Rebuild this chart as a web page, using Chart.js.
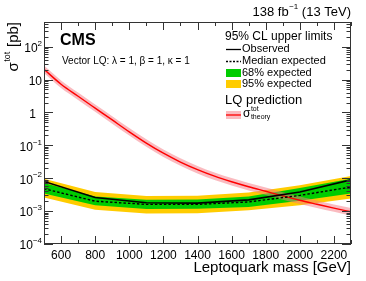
<!DOCTYPE html>
<html>
<head>
<meta charset="utf-8">
<script src="https://cdn.jsdelivr.net/npm/chart.js@4/dist/chart.umd.min.js"></script>
<style>
  html, body { margin: 0; padding: 0; background: #fff; }
</style>
</head>
<body>
<canvas id="limit-chart" width="366" height="281"></canvas>
<script>
// Limit scan mass points (GeV) and cross sections (pb)
const masses = [500, 800, 1100, 1400, 1700, 2000, 2300];
const observed = [8.0e-3, 2.6e-3, 1.8e-3, 1.75e-3, 2.2e-3, 3.8e-3, 8.9e-3];
const expected = [4.8e-3, 2.0e-3, 1.6e-3, 1.6e-3, 1.9e-3, 3.0e-3, 5.4e-3];
const exp68Up = [7.1e-3, 2.8e-3, 2.2e-3, 2.25e-3, 2.8e-3, 5.0e-3, 9.7e-3];
const exp68Down = [3.4e-3, 1.5e-3, 1.16e-3, 1.18e-3, 1.34e-3, 2.06e-3, 3.4e-3];
const exp95Up = [9.7e-3, 3.8e-3, 2.9e-3, 2.95e-3, 3.7e-3, 6.1e-3, 1.17e-2];
const exp95Down = [2.6e-3, 1.1e-3, 8.5e-4, 8.6e-4, 1.06e-3, 1.5e-3, 2.4e-3];

// Theory prediction
const theoryMasses = [500, 600, 700, 800, 900, 1000, 1100, 1200, 1300, 1400, 1500,
  1600, 1700, 1800, 1900, 2000, 2100, 2200, 2300];
const theory = [20.4, 7.2, 3.1, 1.35, 0.59, 0.257, 0.117, 0.0575, 0.031, 0.0182, 0.0115,
  0.0078, 0.0055, 0.0040, 0.0029, 0.00214, 0.00162, 0.00123, 0.00095];
const theoryUp = [26.5, 9.4, 4.0, 1.75, 0.77, 0.334, 0.152, 0.0748, 0.0403, 0.0237, 0.0150,
  0.0101, 0.00715, 0.0052, 0.00377, 0.00278, 0.00211, 0.0016, 0.00124];
const theoryDown = [15.7, 5.5, 2.4, 1.04, 0.454, 0.198, 0.09, 0.0442, 0.0238, 0.014, 0.00885,
  0.006, 0.00423, 0.00308, 0.00223, 0.00165, 0.00125, 0.00095, 0.00073];

// Axis ticks
const xTickLabels = [600, 800, 1000, 1200, 1400, 1600, 1800, 2000, 2200];
const yDecades = [-4, -3, -2, -1, 0, 1, 2];

const FONT = '"Liberation Sans", Arial, Helvetica, sans-serif';
const GREEN = '#00cc00';
const YELLOW = '#ffcc00';
const PINK = 'rgba(245, 120, 130, 0.5)';

const pts = (xs, ys) => xs.map((x, i) => ({ x, y: ys[i] }));

function textWithScripts(ctx, x, y, base, sup, sub, size) {
  ctx.font = size + 'px ' + FONT;
  ctx.fillText(base, x, y);
  const w = ctx.measureText(base).width;
  const small = Math.round(size * 0.62);
  ctx.font = small + 'px ' + FONT;
  if (sup) ctx.fillText(sup, x + w + 0.5, y - size * 0.42);
  if (sub) ctx.fillText(sub, x + w + 0.5, y + size * 0.28);
}

const decorations = {
  id: 'decorations',
  afterDraw(chart) {
    const { ctx, chartArea: a, scales: { x, y } } = chart;
    ctx.save();
    ctx.fillStyle = '#000';
    ctx.strokeStyle = '#333';
    ctx.lineWidth = 1;

    // frame
    ctx.strokeRect(a.left + 0.5, a.top + 0.5, a.right - a.left - 1, a.bottom - a.top - 1);

    // x ticks, inside on bottom and top
    ctx.beginPath();
    for (let m = 500; m <= 2300; m += 100) {
      const px = Math.round(x.getPixelForValue(m)) + 0.5;
      const len = m % 200 === 0 ? 8 : 4;
      ctx.moveTo(px, a.bottom); ctx.lineTo(px, a.bottom - len);
      ctx.moveTo(px, a.top); ctx.lineTo(px, a.top + len);
    }
    // y ticks, inside on left and right
    yDecades.forEach(d => {
      for (let k = 1; k <= 9; k++) {
        const v = k * Math.pow(10, d);
        if (v > y.max) break;
        const py = Math.round(y.getPixelForValue(v)) + 0.5;
        const len = k === 1 ? 9 : 4.5;
        ctx.moveTo(a.left, py); ctx.lineTo(a.left + len, py);
        ctx.moveTo(a.right, py); ctx.lineTo(a.right - len, py);
      }
    });
    ctx.stroke();

    // x tick labels
    ctx.font = '12px ' + FONT;
    ctx.textAlign = 'center';
    ctx.textBaseline = 'middle';
    xTickLabels.forEach(m => ctx.fillText(String(m), x.getPixelForValue(m), a.bottom + 12));

    // y tick labels
    ctx.textAlign = 'left';
    yDecades.forEach(d => {
      const py = y.getPixelForValue(Math.pow(10, d)) + 2;
      if (d === 0 || d === 1) {
        ctx.font = '12px ' + FONT;
        ctx.textAlign = 'right';
        ctx.fillText(d === 0 ? '1' : '10', d === 0 ? 36 : 42, py);
        ctx.textAlign = 'left';
        return;
      }
      const sup = String(d).replace('-', '\u2212');
      ctx.font = '8px ' + FONT;
      const ws = ctx.measureText(sup).width;
      ctx.font = '12px ' + FONT;
      const wb = ctx.measureText('10').width;
      const x0 = 42 - ws - wb;
      ctx.fillText('10', x0, py);
      ctx.font = '8px ' + FONT;
      ctx.fillText(sup, x0 + wb, py - 5);
    });

    // axis titles
    ctx.font = '15px ' + FONT;
    ctx.textAlign = 'right';
    ctx.fillText('Leptoquark mass [GeV]', a.right, a.bottom + 24);

    ctx.save();
    ctx.translate(14, a.top);
    ctx.rotate(-Math.PI / 2);
    ctx.textAlign = 'left';
    ctx.font = '15px ' + FONT;
    const w1 = ctx.measureText('\u03c3').width;
    ctx.font = '9px ' + FONT;
    const w2 = ctx.measureText('tot').width;
    ctx.font = '15px ' + FONT;
    const w3 = ctx.measureText(' [pb]').width;
    const tx = -(w1 + w2 + w3 + 1);
    ctx.fillText('\u03c3', tx, 0);
    ctx.font = '9px ' + FONT;
    ctx.fillText('tot', tx + w1 + 0.5, -6);
    ctx.font = '15px ' + FONT;
    ctx.fillText(' [pb]', tx + w1 + w2 + 1, 0);
    ctx.restore();

    // top right lumi label
    ctx.textAlign = 'right';
    ctx.font = '13px ' + FONT;
    const wTev = ctx.measureText(' (13 TeV)').width;
    ctx.fillText(' (13 TeV)', a.right, 12);
    ctx.font = '8px ' + FONT;
    const wExp = ctx.measureText('\u22121').width;
    ctx.fillText('\u22121', a.right - wTev, 7);
    ctx.font = '13px ' + FONT;
    ctx.fillText('138 fb', a.right - wTev - wExp - 0.5, 12);

    // CMS label and model
    ctx.textAlign = 'left';
    ctx.font = 'bold 16px ' + FONT;
    ctx.fillText('CMS', 60, 41);
    ctx.font = '10px ' + FONT;
    ctx.fillText('Vector LQ: \u03bb = 1, \u03b2 = 1, \u03ba = 1', 62, 61);

    // legend
    const lx = 226;
    ctx.font = '12px ' + FONT;
    ctx.fillText('95% CL upper limits', 225, 37);
    ctx.font = '11px ' + FONT;
    ctx.strokeStyle = '#000';
    ctx.lineWidth = 1.3;
    ctx.beginPath(); ctx.moveTo(lx, 49.5); ctx.lineTo(lx + 15, 49.5); ctx.stroke();
    ctx.fillText('Observed', lx + 16, 49);
    ctx.setLineDash([2, 1.5]);
    ctx.beginPath(); ctx.moveTo(lx, 61.5); ctx.lineTo(lx + 15, 61.5); ctx.stroke();
    ctx.setLineDash([]);
    ctx.fillText('Median expected', lx + 16, 61);
    ctx.fillStyle = GREEN;
    ctx.fillRect(lx, 69, 15, 8);
    ctx.fillStyle = YELLOW;
    ctx.fillRect(lx, 80, 15, 8);
    ctx.fillStyle = '#000';
    ctx.fillText('68% expected', lx + 16, 73);
    ctx.fillText('95% expected', lx + 16, 84);
    ctx.font = '13px ' + FONT;
    ctx.fillText('LQ prediction', 225, 100.5);
    ctx.fillStyle = PINK;
    ctx.fillRect(lx, 111, 15, 8);
    ctx.strokeStyle = '#ff0000';
    ctx.lineWidth = 1.3;
    ctx.beginPath(); ctx.moveTo(lx, 115); ctx.lineTo(lx + 15, 115); ctx.stroke();
    ctx.fillStyle = '#000';
    textWithScripts(ctx, lx + 17, 114, '\u03c3', 'tot', 'theory', 12);

    ctx.restore();
  }
};

const noPoint = { pointRadius: 0, pointHoverRadius: 0 };
const hidden = 'rgba(0,0,0,0)';

new Chart(document.getElementById('limit-chart'), {
  type: 'line',
  data: {
    datasets: [
      { label: 'Observed', data: pts(masses, observed), borderColor: '#000', borderWidth: 1.6, fill: false, ...noPoint },
      { label: 'Median expected', data: pts(masses, expected), borderColor: '#000', borderWidth: 1.4, borderDash: [2.5, 2], fill: false, ...noPoint },
      { label: 'Theory', data: pts(theoryMasses, theory), borderColor: '#ff0000', borderWidth: 1.4, fill: false, cubicInterpolationMode: 'monotone', ...noPoint },
      { label: 'Theory up', data: pts(theoryMasses, theoryUp), borderWidth: 0, borderColor: hidden, backgroundColor: PINK, fill: '+1', cubicInterpolationMode: 'monotone', ...noPoint },
      { label: 'Theory down', data: pts(theoryMasses, theoryDown), borderWidth: 0, borderColor: hidden, fill: false, cubicInterpolationMode: 'monotone', ...noPoint },
      { label: '68% up', data: pts(masses, exp68Up), borderWidth: 0, borderColor: hidden, backgroundColor: GREEN, fill: '+1', ...noPoint },
      { label: '68% down', data: pts(masses, exp68Down), borderWidth: 0, borderColor: hidden, fill: false, ...noPoint },
      { label: '95% up', data: pts(masses, exp95Up), borderWidth: 0, borderColor: hidden, backgroundColor: YELLOW, fill: '+1', ...noPoint },
      { label: '95% down', data: pts(masses, exp95Down), borderWidth: 0, borderColor: hidden, fill: false, ...noPoint }
    ]
  },
  options: {
    responsive: false,
    animation: false,
    layout: { padding: { left: 44, top: 22, right: 15, bottom: 37 } },
    plugins: {
      legend: { display: false },
      tooltip: { enabled: false },
      title: { display: false }
    },
    scales: {
      x: { type: 'linear', min: 500, max: 2300, display: false },
      y: { type: 'logarithmic', min: 1e-4, max: 560, display: false }
    }
  },
  plugins: [decorations]
});
</script>
</body>
</html>
